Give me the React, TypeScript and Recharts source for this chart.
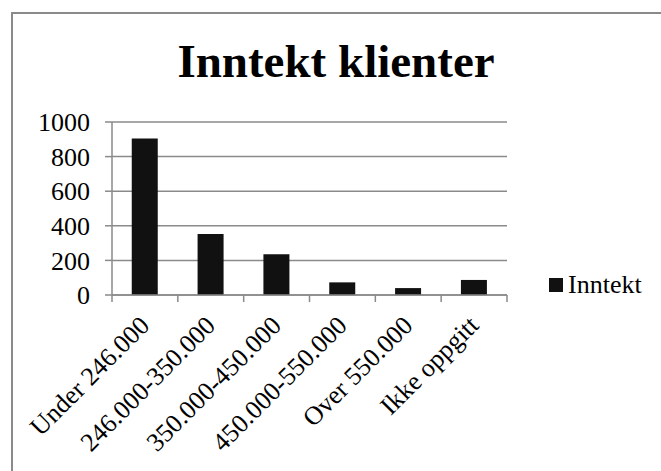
import React from "react";
import { BarChart, Bar, XAxis, YAxis, CartesianGrid, Legend } from "recharts";

const categories = [
  "Under 246.000",
  "246.000-350.000",
  "350.000-450.000",
  "450.000-550.000",
  "Over 550.000",
  "Ikke oppgitt",
];
const inntekt = [905, 352, 236, 73, 40, 87];
const yTicks = [0, 200, 400, 600, 800, 1000];
const seriesName = "Inntekt";
const title = "Inntekt klienter";

const data = categories.map((c, i) => ({ name: c, Inntekt: inntekt[i] }));

const FONT = "'Liberation Serif', 'Times New Roman', serif";
const GRAY = "#8a8a8a";
const N = categories.length;

const XTick = (props: any) => {
  const { x, y, payload, index } = props;
  const plotW = 395;
  const band = plotW / N;
  const left = x - band / 2;
  const tx = x + 6;
  const ty = y + 32;
  return (
    <g>
      <line x1={left} y1={y} x2={left} y2={y + 7} stroke={GRAY} strokeWidth={1.5} />
      {index === N - 1 && (
        <line x1={x + band / 2} y1={y} x2={x + band / 2} y2={y + 7} stroke={GRAY} strokeWidth={1.5} />
      )}
      <text
        x={tx}
        y={ty}
        textAnchor="end"
        transform={`rotate(-45 ${tx} ${ty})`}
        fontFamily={FONT}
        fontSize={26}
        fill="#000"
      >
        {payload.value}
      </text>
    </g>
  );
};

const LegendContent = () => (
  <div style={{ display: "flex", alignItems: "center", fontFamily: FONT, fontSize: 26, color: "#000", whiteSpace: "nowrap" }}>
    <span style={{ display: "inline-block", width: 14, height: 14, background: "#111", marginRight: 5 }} />
    <span>{seriesName}</span>
  </div>
);

export default function App() {
  return (
    <div style={{ position: "fixed", left: 0, top: 0, width: 661, height: 471, overflow: "hidden", background: "#fff" }}>
      <div
        style={{
          position: "absolute",
          left: 11,
          top: 12,
          width: 700,
          height: 500,
          borderLeft: `2px solid ${GRAY}`,
          borderTop: `2px solid ${GRAY}`,
        }}
      />
      <div
        style={{
          position: "absolute",
          left: 11,
          width: 650,
          top: 38,
          textAlign: "center",
          fontFamily: FONT,
          fontWeight: "bold",
          fontSize: 47,
          lineHeight: 1,
          color: "#000",
        }}
      >
        {title}
      </div>
      <div style={{ position: "absolute", left: 0, top: 0 }}>
        <BarChart
          width={661}
          height={471}
          data={data}
          margin={{ top: 122, right: 154, left: 0, bottom: 0 }}
          barCategoryGap="30%"
        >
          <CartesianGrid horizontal vertical={false} stroke={GRAY} strokeWidth={1.5} />
          <XAxis
            dataKey="name"
            height={176}
            interval={0}
            tickSize={0}
            tickMargin={0}
            tickLine={false}
            axisLine={{ stroke: GRAY, strokeWidth: 1.5 }}
            tick={<XTick />}
          />
          <YAxis
            width={112}
            domain={[0, 1000]}
            ticks={yTicks}
            interval={0}
            tickSize={7}
            tickMargin={15}
            axisLine={{ stroke: GRAY, strokeWidth: 1.5 }}
            tickLine={{ stroke: GRAY, strokeWidth: 1.5 }}
            tick={{ fontFamily: FONT, fontSize: 26, fill: "#000" }}
          />
          <Legend
            layout="horizontal"
            verticalAlign="middle"
            align="center"
            wrapperStyle={{ left: 549, top: 270, width: "auto" }}
            content={<LegendContent />}
          />
          <Bar dataKey="Inntekt" name={seriesName} fill="#111" isAnimationActive={false} />
        </BarChart>
      </div>
    </div>
  );
}
